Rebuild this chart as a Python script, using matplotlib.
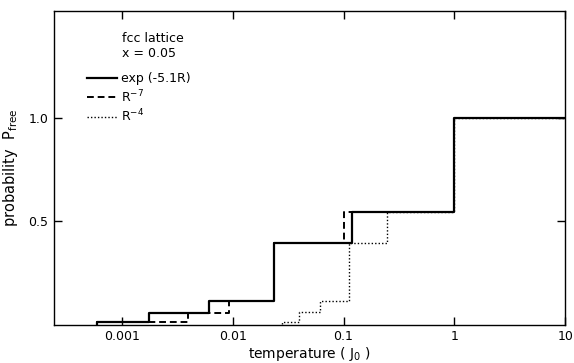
import numpy as np
import matplotlib
matplotlib.use("Agg")
import matplotlib.pyplot as plt
from matplotlib.ticker import FixedLocator, FixedFormatter

plt.rcParams['font.family'] = ['DejaVu Sans']
plt.rcParams['mathtext.default'] = 'regular'

# step edges (temperature in J0) and levels (P_free)
exp_T = [0.0006, 0.00178, 0.0061, 0.0237, 0.119, 1.0, 10.0]
exp_P = [0.01, 0.057, 0.113, 0.395, 0.545, 1.0, 1.0]

r7_T = [0.0006, 0.00394, 0.0093, 0.0237, 0.1014, 1.0, 10.0]
r7_P = [0.01, 0.057, 0.113, 0.395, 0.545, 1.0, 1.0]

r4_T = [0.028, 0.0394, 0.0618, 0.111, 0.248, 1.0, 10.0]
r4_P = [0.01, 0.06, 0.113, 0.395, 0.545, 1.0, 1.0]

xticks = [0.001, 0.01, 0.1, 1, 10]
xticklabels = ['0.001', '0.01', '0.1', '1', '10']
yticks = [0.5, 1.0]
yticklabels = ['0.5', '1.0']

fig = plt.figure(figsize=(5.74, 3.63), dpi=100)
ax = fig.add_axes([0.094, 0.105, 0.891, 0.866])


def stepline(T, P, **kw):
    x = [T[0]] + list(T)
    y = [0] + list(P)
    return ax.step(x, y, where='post', color='black', **kw)


stepline(r4_T, r4_P, lw=1.0, linestyle=(0, (1, 1.5)), label='$R^{-4}$')
stepline(r7_T, r7_P, lw=1.4, linestyle=(0, (3.5, 2)), label='$R^{-7}$')
stepline(exp_T, exp_P, lw=1.6, linestyle='-', label='exp (-5.1R)')

ax.set_xscale('log')
ax.set_xlim(10 ** -3.61, 10)
ax.set_ylim(-0.003, 1.52)
ax.xaxis.set_major_locator(FixedLocator(xticks))
ax.xaxis.set_major_formatter(FixedFormatter(xticklabels))
ax.xaxis.set_minor_locator(FixedLocator([]))
ax.yaxis.set_major_locator(FixedLocator(yticks))
ax.yaxis.set_major_formatter(FixedFormatter(yticklabels))
ax.tick_params(direction='in', length=6, width=1, top=True, right=True,
               labelsize=9, pad=4)
for s in ax.spines.values():
    s.set_linewidth(1.0)

ax.set_xlabel('temperature ( $J_0$ )', fontsize=10, labelpad=1)
ax.set_ylabel('probability  $P_{free}$', fontsize=10.5, labelpad=6)

ax.text(0.001, 1.35, 'fcc lattice\nx = 0.05', fontsize=9, va='center',
        ha='left', linespacing=1.2)

h, l = ax.get_legend_handles_labels()
ax.legend(h[::-1], l[::-1], loc='upper left', bbox_to_anchor=(0.055, 0.82),
          frameon=False, fontsize=9, handlelength=2.4, handletextpad=0.3,
          labelspacing=0.25, borderaxespad=0)

fig.savefig('out.png', dpi=100)
